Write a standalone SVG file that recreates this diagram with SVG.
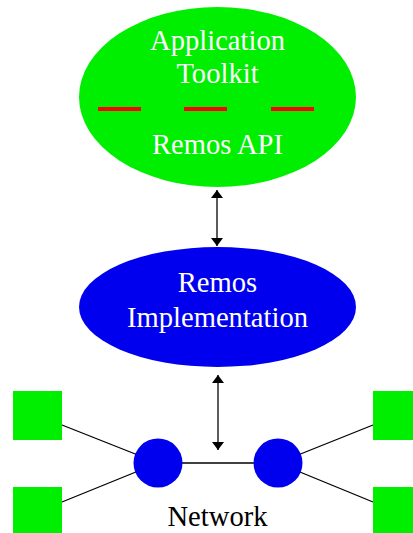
<svg xmlns="http://www.w3.org/2000/svg" width="413" height="533" viewBox="0 0 413 533">
<defs>
<style>
.lbl{font-family:"Liberation Serif","Times New Roman",serif;font-size:28.6px;text-anchor:middle}
.w{fill:#fff}
.k{fill:#000}
.edge{stroke:#000;stroke-width:1.3;fill:none}
.arr{stroke:#333;stroke-width:1.6;fill:none}
.dash{stroke:#ff0000;stroke-width:4}
.host{fill:#00ee00}
.router{fill:#0000ee}
</style>
<marker id="ah" viewBox="0 0 10 10" refX="10" refY="5" markerWidth="8" markerHeight="12" markerUnits="userSpaceOnUse" orient="auto-start-reverse" preserveAspectRatio="none">
<path d="M0,0 L10,5 L0,10 Z" fill="#000"/>
</marker>
</defs>
<rect width="413" height="533" fill="#fff"/>
<g id="connectors">
<line class="arr" x1="217" y1="190" x2="217" y2="246" marker-start="url(#ah)" marker-end="url(#ah)"/>
<line class="arr" x1="218" y1="375" x2="218" y2="450" marker-start="url(#ah)" marker-end="url(#ah)"/>
<line class="edge" x1="62" y1="425" x2="158" y2="463"/>
<line class="edge" x1="62" y1="502" x2="158" y2="463"/>
<line class="edge" x1="158" y1="463" x2="278" y2="463"/>
<line class="edge" x1="373" y1="425" x2="278" y2="463"/>
<line class="edge" x1="373" y1="502" x2="278" y2="463"/>
</g>
<g id="toolkit">
<ellipse cx="217.5" cy="97" rx="138.5" ry="90" fill="#00ee00"/>
<text class="lbl w" x="217.5" y="50">Application</text>
<text class="lbl w" x="217.5" y="83">Toolkit</text>
<line class="dash" x1="98" y1="109" x2="141" y2="109"/>
<line class="dash" x1="184" y1="109" x2="227" y2="109"/>
<line class="dash" x1="271" y1="109" x2="314" y2="109"/>
<text class="lbl w" x="217.5" y="154">Remos API</text>
</g>
<g id="implementation">
<ellipse cx="217.5" cy="307" rx="138.5" ry="60" fill="#0000ee"/>
<text class="lbl w" x="217.5" y="292">Remos</text>
<text class="lbl w" x="217.5" y="327">Implementation</text>
</g>
<g id="host1"><rect class="host" x="13" y="391" width="49" height="49"/></g>
<g id="host2"><rect class="host" x="13" y="487" width="49" height="49"/></g>
<g id="host3"><rect class="host" x="373" y="391" width="49" height="49"/></g>
<g id="host4"><rect class="host" x="373" y="487" width="49" height="49"/></g>
<g id="router1"><circle class="router" cx="158" cy="463" r="24.5"/></g>
<g id="router2"><circle class="router" cx="278" cy="463" r="24.5"/></g>
<g id="network-label"><text class="lbl k" x="217.5" y="526">Network</text></g>
</svg>
